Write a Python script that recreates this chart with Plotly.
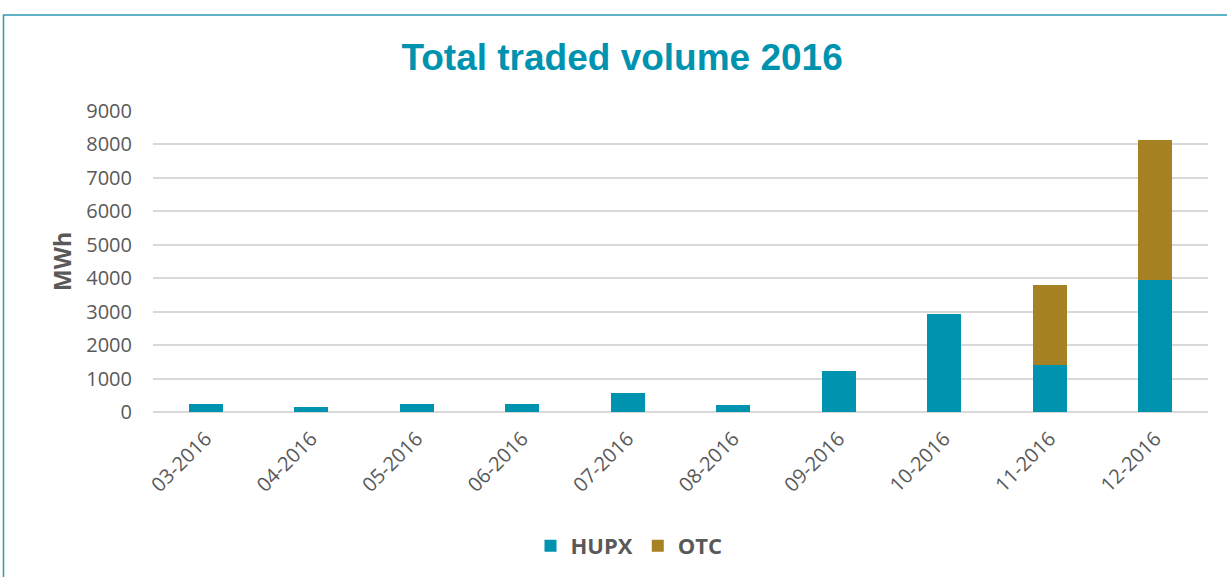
import plotly.graph_objects as go

months = ['03-2016', '04-2016', '05-2016', '06-2016', '07-2016',
          '08-2016', '09-2016', '10-2016', '11-2016', '12-2016']
hupx = [230, 140, 230, 230, 560, 200, 1220, 2930, 1420, 3960]
otc = [0, 0, 0, 0, 0, 0, 0, 0, 2370, 4170]
y_ticks = [0, 1000, 2000, 3000, 4000, 5000, 6000, 7000, 8000, 9000]

teal = '#0093AF'
gold = '#A68225'
grey = '#595959'

fig = go.Figure()

fig.add_trace(go.Bar(
    x=months, y=hupx, name='HUPX', showlegend=False,
    marker=dict(color=teal, line=dict(width=0))
))
fig.add_trace(go.Bar(
    x=months, y=otc, name='OTC', showlegend=False,
    marker=dict(color=gold, line=dict(width=0))
))

# legend entries with bigger square swatches
for name, col in [('HUPX', teal), ('OTC', gold)]:
    fig.add_trace(go.Scatter(
        x=[None], y=[None], mode='markers', name='<b>' + name + '</b>',
        marker=dict(symbol='square', size=16, color=col)
    ))

# plot area: x 153..1208 px, y 111..412 px
L, R, T, B = 153, 1208, 111, 412
pw, ph = R - L, B - T

fig.update_layout(
    barmode='stack',
    bargap=0.68,
    width=1227, height=577,
    margin=dict(l=L, r=1227 - R, t=T, b=577 - B, autoexpand=False),
    paper_bgcolor='white',
    plot_bgcolor='white',
    font=dict(family='Open Sans, Liberation Sans, sans-serif', color=grey, size=20),
    title=dict(
        text='<b>Total traded volume 2016</b>',
        font=dict(family='Liberation Sans, Arial, sans-serif', size=37, color=teal),
        x=0.507, xanchor='center', xref='container',
        y=1 - 57 / 577, yanchor='middle', yref='container'
    ),
    xaxis=dict(
        tickangle=-45,
        tickfont=dict(size=20, color=grey),
        showgrid=False,
        showline=False,
        ticks='',
        ticklabelstandoff=10,
    ),
    yaxis=dict(
        range=[0, 9000],
        tickvals=y_ticks,
        tickfont=dict(size=20, color=grey),
        showgrid=True,
        gridcolor='#D9D9D9',
        gridwidth=1.5,
        zeroline=True,
        zerolinecolor='#D9D9D9',
        zerolinewidth=1.5,
        ticks='',
        ticklabelstandoff=20,
        title=dict(text='<b>MWh</b>', font=dict(size=23, color=grey), standoff=8),
    ),
    legend=dict(
        orientation='h',
        x=629 / 1227, xanchor='center', xref='container',
        y=-(546 - B) / ph, yanchor='middle',
        font=dict(size=22, color=grey),
        itemsizing='constant',
        traceorder='normal',
        itemwidth=30,
    ),
    showlegend=True,
)

# outer teal frame
fig.add_shape(
    type='rect', xref='paper', yref='paper',
    x0=(3.5 - L) / pw, x1=(1240 - L) / pw,
    y0=-(600 - B) / ph, y1=(B - 15) / ph,
    line=dict(color='#2A9BB3', width=1.5),
    fillcolor='rgba(0,0,0,0)', layer='below'
)

fig.write_html('out.html', config={'displayModeBar': False},
               post_script="document.body.style.margin='0px';")
